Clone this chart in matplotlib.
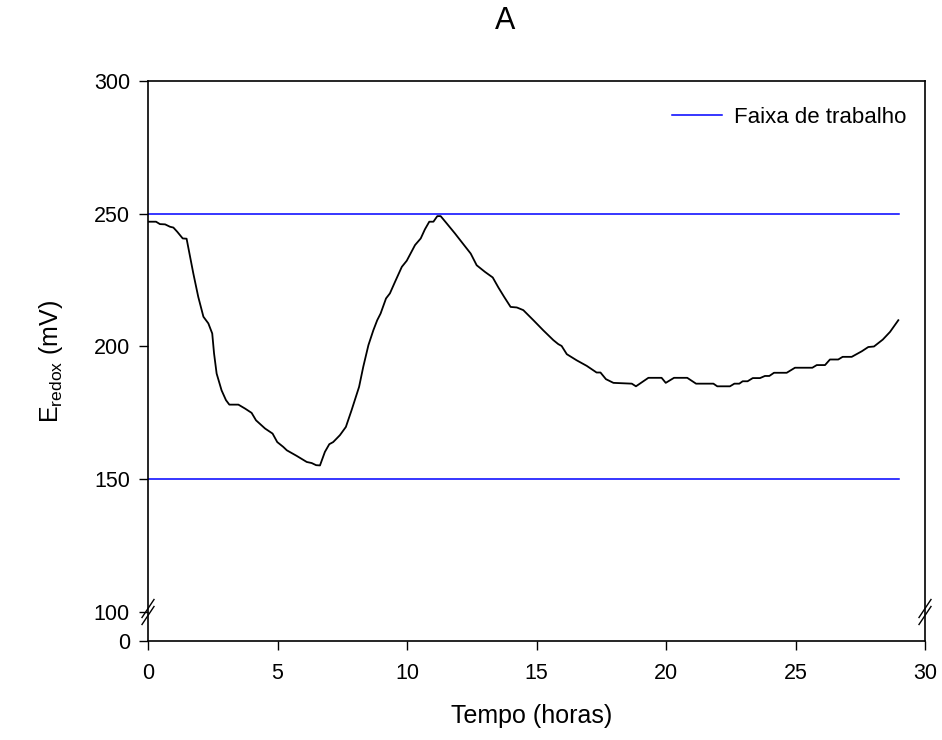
import numpy as np
import matplotlib
matplotlib.use("Agg")
import matplotlib.pyplot as plt

plt.rcParams['font.family'] = ['Liberation Sans', 'DejaVu Sans']
plt.rcParams['mathtext.fontset'] = 'custom'
plt.rcParams['mathtext.rm'] = 'Liberation Sans'
plt.rcParams['mathtext.it'] = 'Liberation Sans'

# E redox curve (hours, mV)
tempo = [0.0, 0.31, 0.46, 0.66, 0.85, 0.98, 1.13, 1.34, 1.49, 1.75, 1.94, 2.14,
         2.33, 2.48, 2.55, 2.65, 2.84, 3.01, 3.14, 3.49, 3.75, 4.0, 4.17, 4.52,
         4.81, 4.99, 5.22, 5.36, 5.74, 6.13, 6.32, 6.49, 6.64, 6.83, 7.0, 7.15,
         7.41, 7.64, 7.86, 8.15, 8.31, 8.51, 8.7, 8.85, 8.98, 9.19, 9.34, 9.54,
         9.8, 9.99, 10.31, 10.53, 10.69, 10.86, 11.02, 11.17, 11.3, 11.53, 11.85,
         12.17, 12.46, 12.69, 13.01, 13.31, 13.53, 13.75, 14.0, 14.24, 14.49,
         14.88, 15.26, 15.65, 15.84, 15.97, 16.17, 16.55, 16.94, 17.32, 17.47,
         17.68, 17.97, 18.68, 18.84, 19.32, 19.83, 19.99, 20.31, 20.82, 21.16,
         21.83, 21.98, 22.47, 22.64, 22.83, 22.96, 23.15, 23.35, 23.63, 23.82,
         23.99, 24.17, 24.66, 24.98, 25.65, 25.82, 26.14, 26.33, 26.65, 26.82,
         27.17, 27.56, 27.81, 28.03, 28.37, 28.65, 28.97]
eredox = [247.0, 247.0, 246.1, 246.0, 245.1, 244.8, 243.2, 240.7, 240.6, 227.5,
          218.7, 211.2, 208.7, 204.9, 197.4, 189.8, 183.5, 179.8, 178.1, 178.1,
          176.6, 175.0, 172.2, 169.1, 167.2, 164.0, 162.2, 160.9, 158.8, 156.5,
          156.1, 155.3, 155.2, 160.3, 163.2, 164.0, 166.6, 169.7, 176.0, 184.8,
          192.3, 200.5, 206.1, 209.9, 212.4, 218.1, 220.0, 224.4, 230.0, 232.3,
          238.2, 240.7, 244.1, 247.0, 247.0, 249.1, 249.1, 246.4, 242.6, 238.6,
          235.0, 230.6, 228.1, 226.0, 222.2, 218.7, 214.9, 214.7, 213.7, 209.9,
          206.1, 202.4, 200.9, 200.2, 197.1, 194.8, 192.7, 190.2, 190.2, 187.7,
          186.3, 186.0, 185.0, 188.2, 188.2, 186.3, 188.2, 188.2, 186.0, 186.0,
          185.0, 185.0, 186.0, 186.0, 186.9, 186.9, 188.1, 188.1, 188.9, 188.9,
          190.1, 190.1, 192.0, 192.0, 193.0, 193.0, 195.1, 195.1, 196.1, 196.1,
          198.2, 199.8, 200.0, 202.6, 205.5, 209.9]

faixa = [150, 250]
faixa_x = [0, 29]
xticks = [0, 5, 10, 15, 20, 25, 30]
yticks = [0, 100, 150, 200, 250, 300]

# broken axis: 0-100 squeezed into a small strip
k = 0.1093
def fwd(v):
    v = np.asarray(v, dtype=float)
    return np.where(v >= 100, v, 100 - (100 - v) * k)
def inv(u):
    u = np.asarray(u, dtype=float)
    return np.where(u >= 100, u, 100 - (100 - u) / k)

fig = plt.figure(figsize=(9.42, 7.4), dpi=100)
ax = fig.add_axes([148/942, 1 - 641/740, 777/942, 560/740])
ax.set_yscale('function', functions=(fwd, inv))

ax.plot(faixa_x, [faixa[1]] * 2, color='#0000ff', lw=1.1, label='Faixa de trabalho')
ax.plot(faixa_x, [faixa[0]] * 2, color='#0000ff', lw=1.1)
ax.plot(tempo, eredox, color='black', lw=1.3)

ax.set_xlim(0, 30)
ax.set_ylim(0, 300)
ax.set_xticks(xticks)
ax.set_yticks(yticks)
ax.yaxis.set_minor_locator(plt.NullLocator())
ax.tick_params(direction='out', length=6.5, width=1, labelsize=15.5, pad=6.5)
ax.tick_params(axis='x', pad=9.5)
for s in ax.spines.values():
    s.set_linewidth(1.2)

# break marks on both vertical spines
yb = 29 / 560
dx, dy = 6 / 777, 9 / 560
for xs in (0, 1):
    for off in (-3.5 / 560, 3.5 / 560):
        ax.plot([xs - dx, xs + dx], [yb + off - dy, yb + off + dy], color='black',
                lw=1, transform=ax.transAxes, clip_on=False)

leg = ax.legend(loc='upper right', frameon=False, fontsize=16, handlelength=2.25,
                handletextpad=0.55, borderaxespad=0,
                bbox_to_anchor=(1 - 10/777, 1 - 17/560))

fig.text(505/942, 1 - 21/740, 'A', ha='center', va='center', fontsize=22)
fig.text(532/942, 1 - 704/740, 'Tempo (horas)', ha='center', va='top', fontsize=18)
fig.text(51/942, 1 - 361.5/740, r'E$_{\mathrm{redox}}$ (mV)', ha='center', va='center',
         rotation=90, fontsize=18)

plt.savefig('out.png', dpi=100)
